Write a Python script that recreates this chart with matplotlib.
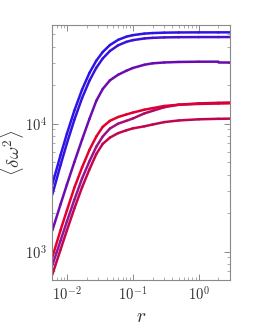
import numpy as np
import matplotlib
matplotlib.use("Agg")
import matplotlib.pyplot as plt
from matplotlib.collections import LineCollection
from matplotlib.colors import to_rgb
from matplotlib.ticker import LogLocator, FuncFormatter, NullFormatter

plt.rcParams['mathtext.fontset'] = 'cm'

# ---- data ----
r = [0.006, 0.008, 0.01, 0.013, 0.017, 0.022, 0.028, 0.035, 0.045, 0.06,
     0.08, 0.1, 0.15, 0.2, 0.3, 0.5, 1.0, 2.0, 3.0]
blue1 = [3350, 5670, 8340, 12680, 18470, 24920, 31080, 36290, 41140, 45170,
         47820, 49150, 50530, 51040, 51400, 51590, 51670, 51690, 51700]
blue2 = [2790, 4740, 7020, 10760, 15850, 21670, 27360, 32290, 36970, 40940,
         43570, 44910, 46310, 46830, 47200, 47390, 47470, 47490, 47500]
purple = [1460, 2340, 3340, 5020, 7510, 10900, 15100, 18660, 21800, 24100,
          25900, 27200, 28850, 29600, 30060, 30340, 30480, 30500, 30500]
purple_red = [780, 1217, 1720, 2550, 3730, 5080, 6610, 7940, 9160, 10000,
              10520, 10960, 12020, 12590, 13430, 14060, 14390, 14550, 14620]
red = [905, 1470, 2100, 3170, 4550, 6240, 7940, 9440, 10520, 11270,
       11800, 12190, 12850, 13210, 13740, 14060, 14260, 14360, 14420]
dark_red = [660, 1035, 1466, 2180, 3180, 4390, 5800, 6950, 7780, 8430,
            8870, 9180, 9530, 9840, 10280, 10590, 10810, 10910, 10940]

series = [
    (dark_red, '#c4084c', '#bc0652'),
    (purple_red, '#8c18a2', '#c8003e'),
    (red, '#e8002a', '#d80038'),
    (purple, '#6c0cb2', '#6a0aac'),
    (blue2, '#3012e2', '#5010c6'),
    (blue1, '#2a14e8', '#2c14e2'),
]

fig = plt.figure(figsize=(2.54, 3.28), dpi=100)
ax = fig.add_axes([52.3 / 254, 1 - 280 / 328, (230 - 52.3) / 254, 255 / 328])
ax.set_xscale('log')
ax.set_yscale('log')


def grad_line(x, y, c0, c1, lw=1.8):
    x = np.asarray(x, float)
    y = np.asarray(y, float)
    pts = np.column_stack([x, y])
    segs = np.stack([pts[:-1], pts[1:]], axis=1)
    lx = np.log10(x)
    tm = (lx[:-1] + lx[1:]) / 2
    t = (tm - lx[0]) / (lx[-1] - lx[0])
    a, b = np.array(to_rgb(c0)), np.array(to_rgb(c1))
    cols = (1 - t)[:, None] * a + t[:, None] * b
    lc = LineCollection(segs, colors=cols, linewidths=lw,
                        capstyle='round', joinstyle='round')
    ax.add_collection(lc)


for vals, c0, c1 in series:
    grad_line(r, vals, c0, c1)

ax.set_xlim(0.006, 3.0)
ax.set_ylim(600, 59000)

frame = '#8a8a8a'
for s in ax.spines.values():
    s.set_color(frame)
    s.set_linewidth(0.8)

fmt = FuncFormatter(lambda v, p: r'$10^{%d}$' % int(round(np.log10(v))))
ax.xaxis.set_major_locator(LogLocator(base=10))
ax.yaxis.set_major_locator(LogLocator(base=10))
ax.xaxis.set_minor_locator(LogLocator(base=10, subs=np.arange(2, 10)))
ax.yaxis.set_minor_locator(LogLocator(base=10, subs=np.arange(2, 10)))
ax.xaxis.set_major_formatter(fmt)
ax.yaxis.set_major_formatter(fmt)
ax.xaxis.set_minor_formatter(NullFormatter())
ax.yaxis.set_minor_formatter(NullFormatter())

ax.tick_params(which='both', direction='in', top=True, right=True,
               color=frame, labelcolor='#333333', labelsize=10.5)
ax.tick_params(which='major', length=4, width=0.7)
ax.tick_params(which='minor', length=2.2, width=0.5)
ax.tick_params(axis='x', which='major', pad=3.5)
ax.tick_params(axis='y', which='major', pad=4)

ax.set_xlabel(r'$r$', fontsize=14, color='#333333')
ax.set_ylabel(r'$\langle \delta\omega^2 \rangle$', fontsize=13.5, color='#333333')
ax.xaxis.label.set_va('center')
ax.yaxis.label.set_va('center')
ax.yaxis.label.set_ha('center')
ax.xaxis.set_label_coords(0.5, (280 - 317) / 255)
ax.yaxis.set_label_coords((12.5 - 52.3) / 177.7, 0.5)

fig.savefig('out.png', dpi=100)
